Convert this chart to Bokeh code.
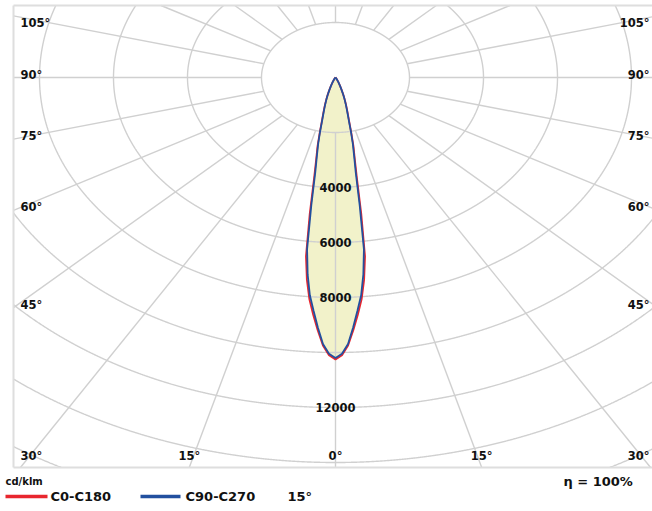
import numpy as np
from bokeh.plotting import figure
from bokeh.models import Range1d
from bokeh.core.properties import value
from bokeh.embed import file_html
from bokeh.resources import INLINE

# ---------------- data (cd/klm) ----------------
gamma_deg = [0, 1, 2, 3, 4, 5, 6, 7, 8, 9, 10, 11, 12, 13, 14, 15, 16, 17, 18, 19, 20, 22, 25, 30, 35, 40, 50, 60, 90, 120, 150, 180]
i_c0_c180 = [10250, 10100, 9750, 9200, 8650, 8100, 7400, 6550, 5000, 3700, 3000, 2550, 2050, 1650, 1400, 1200, 1030, 880, 740, 610, 490, 330, 175, 65, 22, 6, 0, 0, 0, 0, 0, 0]
i_c90_c270 = [10200, 10050, 9700, 9100, 8500, 7950, 7200, 6300, 4700, 3500, 2900, 2450, 2000, 1600, 1350, 1160, 1000, 850, 720, 590, 480, 320, 170, 60, 20, 5, 0, 0, 0, 0, 0, 0]

ring_values = [2000, 4000, 6000, 8000, 10000, 12000, 14000, 16000]
ring_labels = [4000, 6000, 8000, 12000]
spoke_angles = [0, 15, 30, 45, 60, 75, 90, 105, 120, 135, 150, 165, 180]
side_labels = [105, 90, 75, 60, 45]
bottom_labels = [30, 15, 0]
series_names = ["C0-C180", "C90-C270"]
series_colors = ["#e8262e", "#22509f"]
unit_text = "cd/klm"
beam_text = "15°"
eff_text = "η = 100%"

# ---------------- geometry ----------------
W, Hh = 652, 511
CX, CY = 335, 77           # page px of the luminaire
HX = 74.0 / 2000           # px per cd/klm horizontally
VY = 55.0 / 2000           # px per cd/klm vertically
KS = 1.04                  # spoke stretch


def X(px):
    return (px - CX) / HX


def Y(py):
    return (CY - py) / VY


XL, XR, YB, YT = X(13), X(653), Y(467), Y(5)

p = figure(width=W, height=Hh, output_backend="svg", toolbar_location=None,
           x_range=Range1d(X(0), X(W)), y_range=Range1d(Y(Hh), Y(0)),
           min_border=0, min_border_left=0, min_border_right=0,
           min_border_top=0, min_border_bottom=0)
p.axis.visible = False
p.grid.visible = False
p.outline_line_color = None
p.background_fill_color = "white"

FONT = value("DejaVu Sans")


def curve(vals):
    g = np.radians(np.array(gamma_deg, dtype=float))
    v = np.array(vals, dtype=float)
    gg = np.concatenate([-g[::-1], g[1:]])
    vv = np.concatenate([v[::-1], v[1:]])
    return vv * np.sin(gg), -vv * np.cos(gg)


# fill
fx, fy = curve(i_c90_c270)
p.patch(fx, fy, fill_color="#f2f2ca", line_color=None)

# rings
th = np.linspace(0, 2 * np.pi, 6000)
rx, ry = [], []
for R in ring_values:
    x = R * np.sin(th)
    y = -R * np.cos(th)
    m = (x < XL) | (x > XR) | (y < YB) | (y > YT)
    rx.append(np.where(m, np.nan, x))
    ry.append(np.where(m, np.nan, y))
p.multi_line(rx, ry, line_color="#d0d0d0", line_width=1.4)


def spoke_dir(gdeg):
    g = np.radians(gdeg)
    return np.sin(g) * KS, -np.cos(g)


def hit_rect(dx, dy):
    ts = []
    if dx > 1e-9: ts.append(XR / dx)
    if dx < -1e-9: ts.append(XL / dx)
    if dy > 1e-9: ts.append(YT / dy)
    if dy < -1e-9: ts.append(YB / dy)
    return min(ts)


sx, sy = [], []
for a in spoke_angles:
    for s in ([1] if a in (0, 180) else [1, -1]):
        dx, dy = spoke_dir(s * a)
        n = np.hypot(dx, dy)
        t0 = ring_values[0] / n
        t1 = hit_rect(dx, dy)
        sx.append([dx * t0, dx * t1])
        sy.append([dy * t0, dy * t1])
p.multi_line(sx, sy, line_color="#d0d0d0", line_width=1.4)

# border (left, top, bottom)
p.multi_line([[XL, XL], [XL, XR], [XL, XR]], [[YB, YT], [YT, YT], [YB, YB]],
             line_color="#dedede", line_width=2)

# curves
for vals, col in zip([i_c0_c180, i_c90_c270], series_colors):
    cx_, cy_ = curve(vals)
    p.line(cx_, cy_, line_color=col, line_width=1.8)

TXT = dict(text_font=FONT, text_font_style="bold", text_color="#111111", text_baseline="middle")

# ring labels
p.text(x=[0] * len(ring_labels), y=[-v for v in ring_labels], text=[str(v) for v in ring_labels],
       text_align="center", text_font_size="11.5px", **TXT)

# side angle labels
lx, ly, lt, la = [], [], [], []
for a in side_labels:
    dx, dy = spoke_dir(-a)
    t = XL / dx
    yy = min(dy * t + 3 / VY, Y(22))
    lx += [X(20), X(649)]
    ly += [yy, yy]
    lt += [f"{a}°", f"{a}°"]
    la += ["left", "right"]
for a in bottom_labels:
    dx, dy = spoke_dir(a)
    xx = dx * (YB / dy)
    yy = Y(455)
    if a == 0:
        lx.append(0); ly.append(yy); lt.append("0°"); la.append("center")
    elif a >= 30:
        lx += [X(20), X(649)]; ly += [yy, yy]; lt += [f"{a}°"] * 2; la += ["left", "right"]
    else:
        lx += [-xx, xx]; ly += [yy, yy]; lt += [f"{a}°"] * 2; la += ["center", "center"]
p.text(x=lx, y=ly, text=lt, text_align=la, text_font_size="11.5px", **TXT)

# bottom texts / legend
p.segment(x0=[X(5), X(140)], y0=[Y(496)] * 2, x1=[X(47), X(180)], y1=[Y(496)] * 2,
          line_color=series_colors, line_width=3.5)
p.text(x=[X(50), X(185), X(287)], y=[Y(496)] * 3, text=series_names + [beam_text],
       text_align="left", text_font_size="13px", **TXT)
p.text(x=[X(5)], y=[Y(481)], text=[unit_text], text_align="left", text_font_size="10px", **TXT)
p.text(x=[X(563)], y=[Y(481)], text=[eff_text], text_align="left", text_font_size="13px", **TXT)

open("out.html", "w").write(file_html(p, INLINE))
